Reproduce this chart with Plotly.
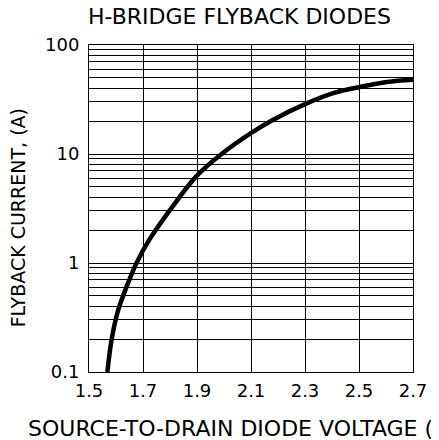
import plotly.graph_objects as go

# Data
voltage = [1.568, 1.584, 1.606, 1.636, 1.676, 1.723, 1.808, 1.899, 1.991, 2.101, 2.174, 2.302, 2.408, 2.504, 2.603, 2.700]
current = [0.10, 0.20, 0.355, 0.577, 1.0, 1.63, 3.26, 6.3, 10.0, 15.6, 20.1, 28.8, 36.3, 41.2, 45.8, 48.0]

x_ticks = [1.5, 1.7, 1.9, 2.1, 2.3, 2.5, 2.7]
x_ticklabels = ["1.5", "1.7", "1.9", "2.1", "2.3", "2.5", "2.7"]
decades = [0.1, 1, 10]
decade_labels = {0.1: "0.1", 1: "1", 10: "10", 100: "100"}

y_tickvals = []
y_ticktext = []
for d in decades:
    for k in range(1, 10):
        v = round(d * k, 6)
        y_tickvals.append(v)
        y_ticktext.append(decade_labels.get(v, ""))
y_tickvals.append(100)
y_ticktext.append("100")

title_text = "H-BRIDGE FLYBACK DIODES"
x_title = "SOURCE-TO-DRAIN DIODE VOLTAGE (V)"
y_title = "FLYBACK CURRENT, (A)"

FONT = "DejaVu Sans"
OFF = 8  # page body margin
W, H = 439 - OFF, 440 - OFF
L, T = 89 - OFF, 45 - OFF
R = W - (417 - OFF)
B = H - (372 - OFF)

fig = go.Figure()
fig.add_trace(go.Scatter(
    x=voltage, y=current, mode="lines",
    line=dict(color="black", width=4.5, shape="spline", smoothing=1.0),
    showlegend=False, hoverinfo="skip",
))

fig.update_layout(
    width=W, height=H,
    margin=dict(l=L, r=R, t=T, b=B, pad=0),
    paper_bgcolor="white", plot_bgcolor="white",
    font=dict(family=FONT, color="black", size=18),
    xaxis=dict(
        range=[1.5, 2.7], tickvals=x_ticks, ticktext=x_ticklabels,
        showgrid=True, gridcolor="black", gridwidth=1,
        zeroline=False, showline=True, linecolor="black", linewidth=1, mirror=True,
        ticks="", ticklabelstandoff=2,
        tickfont=dict(family=FONT, size=18, color="black"),
    ),
    yaxis=dict(
        type="log", range=[-1, 2], tickvals=y_tickvals, ticktext=y_ticktext,
        showgrid=True, gridcolor="black", gridwidth=1,
        zeroline=False, showline=True, linecolor="black", linewidth=1, mirror=True,
        ticks="", ticklabelstandoff=5,
        tickfont=dict(family=FONT, size=18, color="black"),
    ),
)

plot_w = W - L - R
plot_h = H - T - B

def px_to_paper_x(px):
    return (px - OFF - L) / plot_w

def px_to_paper_y(py):
    return (H - B - (py - OFF)) / plot_h

fig.add_annotation(
    text=title_text, xref="paper", yref="paper",
    x=px_to_paper_x(241), y=px_to_paper_y(17),
    xanchor="center", yanchor="middle", showarrow=False,
    font=dict(family=FONT, size=22, color="black"),
)
fig.add_annotation(
    text=x_title, xref="paper", yref="paper",
    x=px_to_paper_x(25), y=px_to_paper_y(428),
    xanchor="left", yanchor="middle", showarrow=False,
    font=dict(family=FONT, size=22, color="black"),
)
fig.add_annotation(
    text=y_title, xref="paper", yref="paper",
    x=px_to_paper_x(17.5), y=px_to_paper_y(218),
    xanchor="center", yanchor="middle", showarrow=False, textangle=-90,
    font=dict(family=FONT, size=19, color="black"),
)

fig.write_html("out.html")
